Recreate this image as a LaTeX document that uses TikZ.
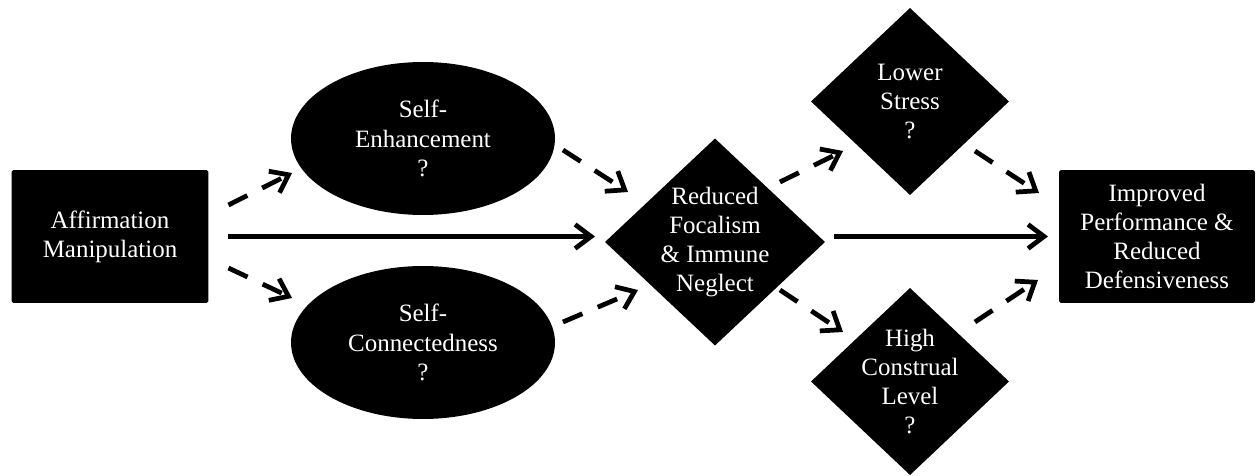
\documentclass[tikz,border=0pt]{standalone}
\usepackage{fontspec}
\setmainfont{Liberation Serif}
\usetikzlibrary{shapes.geometric,arrows.meta}
\tikzset{box/.style={fill=black,text=white,align=center,minimum width=3.94cm,minimum height=2.66cm,inner sep=0pt,outer sep=0pt,rounded corners=1pt,font=\fontsize{14.2}{16.6}\selectfont}}
\tikzset{oval/.style={ellipse,fill=black,text=white,align=center,minimum width=5.28cm,minimum height=3.06cm,inner sep=0pt,outer sep=0pt,font=\fontsize{14.2}{16.6}\selectfont}}
\tikzset{diam/.style={diamond,fill=black,text=white,align=center,inner sep=-3pt,outer sep=0pt,font=\fontsize{14.2}{16.6}\selectfont}}
\tikzset{solidarrow/.style={line width=2.7pt,-{Straight Barb[length=3.2mm,width=4.8mm]}}}
\tikzset{dasharrow/.style={solidarrow,dash pattern=on 12pt off 9.5pt}}

\begin{document}
\begin{tikzpicture}[x=0.02cm, y=-0.02cm]
	\useasboundingbox (0,0) rectangle (1259,476);
	
	\node [box] (aff) at (110,236.5) {Affirmation\\Manipulation};
	\node [oval] (enh) at (423,138.5) {Self-\\Enhancement\\?};
	\node [oval] (con) at (423,342.5) {Self-\\Connectedness\\?};
	\node [diam, minimum width=4.4cm, minimum height=4.14cm] (red) at (715,242) {Reduced\\Focalism\\\& Immune\\Neglect};
	\node [diam, minimum width=3.96cm, minimum height=3.74cm] (low) at (910,101.5) {Lower\\Stress\\?};
	\node [diam, minimum width=3.96cm, minimum height=3.74cm] (hig) at (910,381.5) {High\\Construal\\Level\\?};
	\node [box, minimum width=3.92cm] (res) at (1157,236.5) {Improved\\Performance \&\\Reduced\\Defensiveness};
	
	\draw [solidarrow, shorten <=0.39cm, shorten >=0.2cm] (aff.east) -- (aff.east -| red.west);
	\draw [solidarrow, shorten <=0.18cm, shorten >=0.22cm] (red.east |- res.west) -- (res.west);
	
	\draw [dasharrow] ([shift={(20,-31.5)}]aff.east) -- ([shift={(1,34.5)}]enh.west);
	\draw [dasharrow] ([shift={(20,31.5)}]aff.east) -- ([shift={(1,-44.5)}]con.west);
	\draw [dasharrow] ([shift={(8,11.5)}]enh.east) -- ([shift={(23,-50)}]red.west);
	\draw [dasharrow] ([shift={(8,-20.5)}]con.east) -- ([shift={(33,48)}]red.west);
	\draw [dasharrow] ([shift={(-45,-60)}]red.east) -- ([shift={(32,49.5)}]low.west);
	\draw [dasharrow] ([shift={(-45,48)}]red.east) -- ([shift={(32,-49.5)}]hig.west);
	\draw [dasharrow] ([shift={(-34,49.5)}]low.east) -- ([shift={(-20,-43.5)}]res.west);
	\draw [dasharrow] ([shift={(-34,-59.5)}]hig.east) -- ([shift={(-21,43.5)}]res.west);
\end{tikzpicture}
\end{document}
